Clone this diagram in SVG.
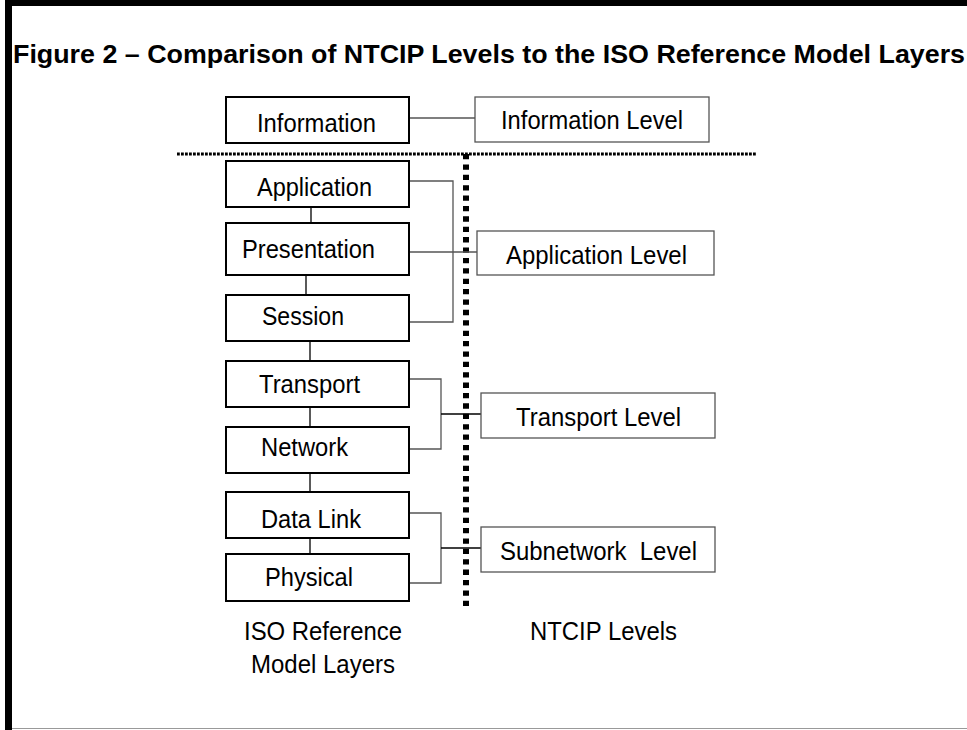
<svg xmlns="http://www.w3.org/2000/svg" width="967" height="730" viewBox="0 0 967 730">
<style>
text{font-family:"Liberation Sans",Arial,sans-serif;fill:#000}
.t{font-size:26px}
.title{font-size:26px;font-weight:bold}
.lbox{fill:#fff;stroke:#000;stroke-width:2}
.rbox{fill:#fff;stroke:#555;stroke-width:1.3}
.c{fill:none;stroke:#000;stroke-width:1.3}
.cg{fill:none;stroke:#555;stroke-width:1.3}
</style>
<rect x="0" y="0" width="967" height="730" fill="#fff"/>
<g id="frame">
<rect x="5" y="0" width="962" height="6" fill="#000"/>
<rect x="5" y="0" width="7" height="730" fill="#000"/>
<line x1="12" y1="728.5" x2="967" y2="728.5" stroke="#999" stroke-width="1.2"/>
</g>
<text class="title" x="13" y="63" textLength="952" lengthAdjust="spacingAndGlyphs">Figure 2 – Comparison of NTCIP Levels to the ISO Reference Model Layers</text>
<g id="dividers">
<line x1="177" y1="154" x2="757" y2="154" stroke="#000" stroke-width="3" stroke-dasharray="2.8 1.2"/>
<line x1="466" y1="154" x2="466" y2="606" stroke="#000" stroke-width="6" stroke-dasharray="5.3 5.09"/>
</g>
<g id="connectors">
<line class="cg" x1="409" y1="118" x2="475" y2="118"/>
<line class="c" x1="311" y1="207" x2="311" y2="223"/>
<line class="c" x1="306" y1="275" x2="306" y2="295"/>
<line class="c" x1="310" y1="341" x2="310" y2="361"/>
<line class="c" x1="310" y1="407" x2="310" y2="427"/>
<line class="c" x1="310" y1="473" x2="310" y2="492"/>
<line class="c" x1="310" y1="538" x2="310" y2="554"/>
<polyline class="cg" points="409,181 453,181 453,322 409,322"/>
<line class="cg" x1="409" y1="252" x2="477" y2="252"/>
<polyline class="cg" points="409,379 441,379 441,449 409,449"/>
<line class="c" x1="441" y1="414" x2="481" y2="414"/>
<polyline class="cg" points="409,513 441,513 441,583 409,583"/>
<line class="c" x1="441" y1="548" x2="481" y2="548"/>
</g>
<g id="information">
<rect class="lbox" x="226" y="97" width="183" height="46"/>
<text class="t" x="257" y="132" textLength="119" lengthAdjust="spacingAndGlyphs">Information</text>
</g>
<g id="application">
<rect class="lbox" x="226" y="161" width="183" height="46"/>
<text class="t" x="257" y="196" textLength="115" lengthAdjust="spacingAndGlyphs">Application</text>
</g>
<g id="presentation">
<rect class="lbox" x="226" y="223" width="183" height="52"/>
<text class="t" x="242" y="258" textLength="133" lengthAdjust="spacingAndGlyphs">Presentation</text>
</g>
<g id="session">
<rect class="lbox" x="226" y="295" width="183" height="46"/>
<text class="t" x="262" y="325" textLength="82" lengthAdjust="spacingAndGlyphs">Session</text>
</g>
<g id="transport">
<rect class="lbox" x="226" y="361" width="183" height="46"/>
<text class="t" x="259" y="393" textLength="101" lengthAdjust="spacingAndGlyphs">Transport</text>
</g>
<g id="network">
<rect class="lbox" x="226" y="427" width="183" height="46"/>
<text class="t" x="261" y="456" textLength="87" lengthAdjust="spacingAndGlyphs">Network</text>
</g>
<g id="datalink">
<rect class="lbox" x="226" y="492" width="183" height="46"/>
<text class="t" x="261" y="528" textLength="100" lengthAdjust="spacingAndGlyphs">Data Link</text>
</g>
<g id="physical">
<rect class="lbox" x="226" y="554" width="183" height="47"/>
<text class="t" x="265" y="586" textLength="88" lengthAdjust="spacingAndGlyphs">Physical</text>
</g>
<g id="information-level">
<rect class="rbox" x="475" y="97" width="234" height="45"/>
<text class="t" x="501" y="129" textLength="182" lengthAdjust="spacingAndGlyphs">Information Level</text>
</g>
<g id="application-level">
<rect class="rbox" x="477" y="231" width="237" height="44"/>
<text class="t" x="506" y="264" textLength="181" lengthAdjust="spacingAndGlyphs">Application Level</text>
</g>
<g id="transport-level">
<rect class="rbox" x="481" y="393" width="234" height="45"/>
<text class="t" x="516" y="426" textLength="165" lengthAdjust="spacingAndGlyphs">Transport Level</text>
</g>
<g id="subnetwork-level">
<rect class="rbox" x="481" y="527" width="234" height="45"/>
<text class="t" x="500" y="560" textLength="197" lengthAdjust="spacingAndGlyphs" xml:space="preserve">Subnetwork  Level</text>
</g>
<g id="labels">
<text class="t" x="244" y="640" textLength="158" lengthAdjust="spacingAndGlyphs">ISO Reference</text>
<text class="t" x="251" y="673" textLength="144" lengthAdjust="spacingAndGlyphs">Model Layers</text>
<text class="t" x="530" y="640" textLength="147" lengthAdjust="spacingAndGlyphs">NTCIP Levels</text>
</g>
</svg>
